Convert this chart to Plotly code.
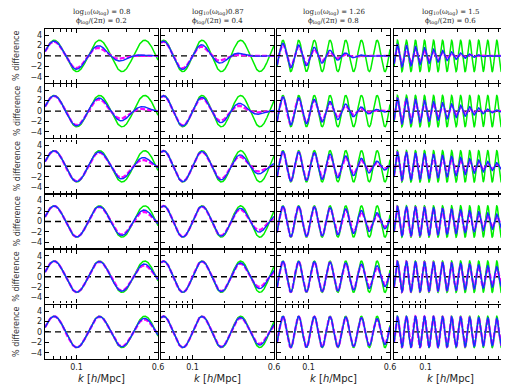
import numpy as np
import plotly.graph_objects as go
from plotly.subplots import make_subplots

# ---------------- data ----------------
k_min, k_max = 0.05, 0.6
log10_omega = [0.8, 0.87, 1.26, 1.5]            # per column
phi_over_2pi = [0.2, 0.4, 0.8, 0.6]             # per column
title_line1 = ["log<sub>10</sub>(ω<sub>log</sub>) = 0.8",
               "log<sub>10</sub>(ω<sub>log</sub>)0.87",
               "log<sub>10</sub>(ω<sub>log</sub>) = 1.26",
               "log<sub>10</sub>(ω<sub>log</sub>) = 1.5"]
title_line2 = ["ϕ<sub>log</sub>/(2π) = 0.2",
               "ϕ<sub>log</sub>/(2π) = 0.4",
               "ϕ<sub>log</sub>/(2π) = 0.8",
               "ϕ<sub>log</sub>/(2π) = 0.6"]
phase_offset = [0.35, 4.51, 3.45, 6.0]          # phase of the template as seen in the plot
amplitude = 3.0                                  # % amplitude of the green template
damp_power = [2.0, 2.0, 1.5, 1.2]                # envelope shape per column
blue_kdamp = [[0.25, 0.21, 0.16, 0.14],
              [0.39, 0.34, 0.265, 0.22],
              [0.58, 0.51, 0.42, 0.35],
              [0.80, 0.70, 0.65, 0.60],
              [0.97, 0.84, 0.90, 0.95],
              [1.18, 1.05, 1.50, 2.50]]
magenta_kdamp_ratio = 0.8
x_tickvals = [0.1, 0.6]
x_ticktext = ["0.1", "0.6"]
x_minor_vals = [0.06, 0.07, 0.08, 0.09, 0.2, 0.3, 0.4, 0.5]
y_tickvals = [-4, -2, 0, 2, 4]
zero_line_x = [k_min, k_max]
zero_line_y = [0, 0]

# ---------------- layout geometry (window pixels) ----------------
OFF = 8                      # page body margin: the figure starts at (8, 8)
W, H = 509 - OFF, 387 - OFF  # figure size so that it fills the window
col_x0 = [45, 161, 277, 394]
col_w = 113
row_top0 = 29
row_pitch = 55.2
row_h = 53.8
y_range = [-5.15, 5.15]


def px(xw):
    return (xw - OFF) / W


def py(yw):
    return 1 - (yw - OFF) / H


nrows, ncols = 6, 4
fig = make_subplots(rows=nrows, cols=ncols)

k = np.geomspace(k_min, k_max, 900)

GREEN = "#00ee00"
MAGENTA = "#ff00ff"
BLUE = "#1030ff"

for r in range(nrows):
    for c in range(ncols):
        omega = 10 ** log10_omega[c]
        arg = omega * np.log(k) + phase_offset[c]
        template = amplitude * np.sin(arg)
        p = damp_power[c]
        env_b = np.exp(-(k / blue_kdamp[r][c]) ** p)
        env_m = np.exp(-(k / (blue_kdamp[r][c] * magenta_kdamp_ratio)) ** p)
        fig.add_trace(go.Scatter(x=zero_line_x, y=zero_line_y, mode="lines",
                                 line=dict(color="black", width=1.4, dash="6px,4px"),
                                 showlegend=False, hoverinfo="skip"), row=r + 1, col=c + 1)
        fig.add_trace(go.Scatter(x=k, y=template, mode="lines",
                                 line=dict(color=GREEN, width=1.5),
                                 showlegend=False), row=r + 1, col=c + 1)
        fig.add_trace(go.Scatter(x=k, y=template * env_m, mode="lines",
                                 line=dict(color=MAGENTA, width=2.3, dash="5px,2px"),
                                 showlegend=False), row=r + 1, col=c + 1)
        fig.add_trace(go.Scatter(x=k, y=template * env_b, mode="lines",
                                 line=dict(color=BLUE, width=1.4),
                                 showlegend=False), row=r + 1, col=c + 1)

        x0 = col_x0[c]
        top = row_top0 + r * row_pitch
        fig.update_xaxes(row=r + 1, col=c + 1,
                         type="log", range=[np.log10(k_min), np.log10(k_max)],
                         domain=[px(x0), px(x0 + col_w)],
                         showline=True, linecolor="black", linewidth=1.4, mirror="ticks",
                         ticks="inside", ticklen=4, tickwidth=1, tickcolor="black",
                         tickvals=x_tickvals, ticktext=x_ticktext,
                         showticklabels=(r == nrows - 1),
                         tickfont=dict(family="DejaVu Sans", size=8, color="#222"),
                         minor=dict(tickvals=x_minor_vals, ticks="inside", ticklen=2.5,
                                    tickwidth=1, tickcolor="black", showgrid=False),
                         showgrid=False, zeroline=False)
        fig.update_yaxes(row=r + 1, col=c + 1,
                         range=y_range,
                         domain=[py(top + row_h), py(top)],
                         showline=True, linecolor="black", linewidth=1.4, mirror="ticks",
                         ticks="inside", ticklen=4, tickwidth=1, tickcolor="black",
                         tickvals=y_tickvals,
                         showticklabels=(c == 0),
                         tickfont=dict(family="DejaVu Sans", size=8, color="#222"),
                         showgrid=False, zeroline=False)

annotations = []
for r in range(nrows):
    top = row_top0 + r * row_pitch
    annotations.append(dict(text="% difference", x=px(17), y=py(top + row_h / 2),
                            xref="paper", yref="paper", showarrow=False, textangle=-90,
                            font=dict(family="DejaVu Sans", size=8, color="#333"),
                            xanchor="center", yanchor="middle"))
for c in range(ncols):
    cx = px(col_x0[c] + col_w / 2)
    annotations.append(dict(text=title_line1[c], x=cx, y=py(12), xref="paper", yref="paper",
                            showarrow=False, font=dict(family="DejaVu Serif", size=7, color="#222"),
                            xanchor="center", yanchor="middle"))
    annotations.append(dict(text=title_line2[c], x=cx, y=py(21.5), xref="paper", yref="paper",
                            showarrow=False, font=dict(family="DejaVu Serif", size=7, color="#222"),
                            xanchor="center", yanchor="middle"))
    annotations.append(dict(text="<i>k</i> [<i>h</i>/Mpc]", x=cx, y=py(378),
                            xref="paper", yref="paper", showarrow=False,
                            font=dict(family="DejaVu Sans", size=10, color="#222"),
                            xanchor="center", yanchor="middle"))

fig.update_layout(width=W, height=H, margin=dict(l=0, r=0, t=0, b=0, autoexpand=False),
                  plot_bgcolor="white", paper_bgcolor="white",
                  annotations=annotations, showlegend=False)

fig.write_html("out.html")
